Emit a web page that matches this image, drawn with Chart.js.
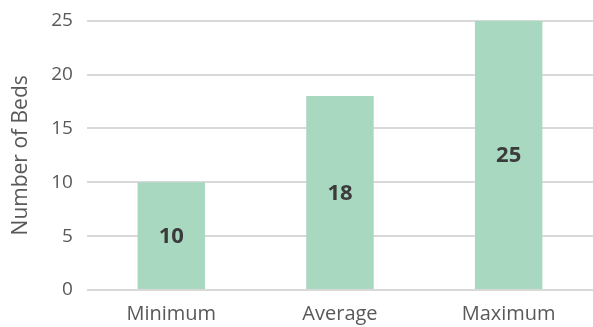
<!DOCTYPE html>
<html>
<head>
<meta charset="utf-8">
<script src="https://cdn.jsdelivr.net/npm/chart.js@4/dist/chart.umd.min.js"></script>
<style>
    html, body { margin: 0; padding: 0; background: #fff; }
    #wrap { width: 593px; height: 327px; }
</style>
</head>
<body>
<div id="wrap"><canvas id="bedChart" width="593" height="327"></canvas></div>
<script>
// data
var categories = ["Minimum", "Average", "Maximum"];
var beds = [10, 18, 25];
var yTicks = [0, 5, 10, 15, 20, 25];

var barColor = "#a8d8c0";
var textGray = "#595959";
var fontFamily = "'Open Sans', 'Noto Sans', sans-serif";

// write the value in the middle of each bar
var valueLabels = {
    id: "valueLabels",
    afterDatasetsDraw: function (chart) {
        var ctx = chart.ctx;
        var meta = chart.getDatasetMeta(0);
        ctx.save();
        ctx.font = "bold 22px " + fontFamily;
        ctx.fillStyle = "#3b3b3b";
        ctx.textAlign = "center";
        ctx.textBaseline = "middle";
        meta.data.forEach(function (bar, i) {
            var mid = (bar.y + bar.base) / 2;
            ctx.fillText(String(beds[i]), bar.x, mid + 1);
        });
        ctx.restore();
    }
};

new Chart(document.getElementById("bedChart"), {
    type: "bar",
    data: {
        labels: categories,
        datasets: [{
            data: beds,
            backgroundColor: barColor,
            borderWidth: 0,
            categoryPercentage: 1,
            barPercentage: 0.4
        }]
    },
    options: {
        responsive: false,
        animation: false,
        layout: { padding: { top: 0, right: 0, bottom: -3, left: 0 } },
        plugins: {
            legend: { display: false },
            tooltip: { enabled: false }
        },
        scales: {
            x: {
                grid: { display: false },
                border: { display: false },
                ticks: {
                    color: textGray,
                    padding: 4,
                    font: { family: fontFamily, size: 20 }
                }
            },
            y: {
                min: 0,
                max: 25,
                afterBuildTicks: function (axis) {
                    axis.ticks = yTicks.map(function (v) { return { value: v }; });
                },
                grid: { color: "#d9d9d9", lineWidth: 2, drawTicks: false },
                border: { display: false },
                ticks: {
                    color: textGray,
                    padding: 14,
                    font: { family: fontFamily, size: 19, lineHeight: 0.7 }
                },
                title: {
                    display: true,
                    text: "Number of Beds",
                    color: textGray,
                    padding: { top: 8, bottom: 4 },
                    font: { family: fontFamily, size: 21 }
                }
            }
        }
    },
    plugins: [valueLabels]
});
</script>
</body>
</html>
